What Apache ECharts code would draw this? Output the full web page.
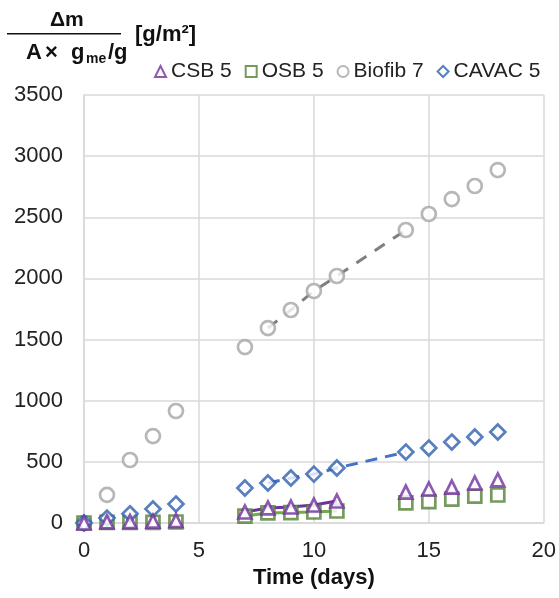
<!DOCTYPE html>
<html>
<head>
<meta charset="utf-8">
<script src="https://cdn.jsdelivr.net/npm/echarts@6/dist/echarts.min.js"></script>
<style>html,body{margin:0;padding:0;background:#fff}#c{width:559px;height:598px}</style>
</head>
<body>
<div id="c"></div>
<script>
var days = [0, 1, 2, 3, 4, 7, 8, 9, 10, 11, 14, 15, 16, 17, 18];
var csb5 = [0, 10, 12, 15, 20, 90, 123, 131, 147, 180, 253, 278, 294, 327, 352];
var osb5 = [0, 5, 5, 5, 8, 57, 82, 85, 90, 98, 164, 175, 196, 220, 229];
var biofib7 = [0, 230, 515, 711, 916, 1439, 1594, 1742, 1897, 2020, 2396, 2527, 2649, 2756, 2886];
var cavac5 = [0, 40, 75, 115, 155, 286, 327, 368, 400, 450, 580, 613, 662, 703, 744];
var seriesNames = ['CSB 5', 'OSB 5', 'Biofib 7', 'CAVAC 5'];
var xTicks = [0, 5, 10, 15, 20];
var yTicks = [0, 500, 1000, 1500, 2000, 2500, 3000, 3500];

function pairs(vals, from, to) {
  var out = [];
  for (var i = 0; i < days.length; i++) {
    if (days[i] >= from && days[i] <= to) out.push([days[i], vals[i]]);
  }
  return out;
}

var font = 'Liberation Sans, Arial, sans-serif';
var chart = echarts.init(document.getElementById('c'), null, {renderer: 'canvas'});
var colors = {csb: '#7030A0', osb: '#538135', bio: '#A5A5A5', cav: '#2F5FAF'};

function scatter(name, vals, sym, size, col) {
  return {
    name: name, type: 'scatter', symbol: sym, symbolSize: size,
    data: pairs(vals, 0, 100), z: 3,
    itemStyle: {color: '#fff', borderColor: col, borderWidth: 2.7}
  };
}
function trend(vals, from, to, col, type) {
  return {
    type: 'line', data: pairs(vals, from, to), showSymbol: false, silent: true, z: 2,
    lineStyle: {color: col, width: 3, type: type}
  };
}
var tf = function (s) { return 'bold ' + s + 'px ' + font; };

chart.setOption({
  animation: false,
  grid: {left: 84, right: 14, top: 95, bottom: 75},
  legend: {
    data: seriesNames, top: 61, left: 154, itemGap: 13, itemWidth: 11, itemHeight: 11,
    textStyle: {fontFamily: font, fontSize: 21, color: '#222'}, padding: 0
  },
  xAxis: {
    type: 'value', min: 0, max: 20, interval: 5,
    name: 'Time (days)', nameLocation: 'middle', nameGap: 44,
    nameTextStyle: {fontFamily: font, fontSize: 22, fontWeight: 'bold', color: '#111'},
    axisLine: {show: true, lineStyle: {color: '#D9D9D9', width: 1.5}},
    axisTick: {show: false},
    axisLabel: {fontFamily: font, fontSize: 22, color: '#222', margin: 17,
      formatter: function (v) { return xTicks.indexOf(v) >= 0 ? String(v) : ''; }},
    splitLine: {show: true, lineStyle: {color: '#D9D9D9', width: 1.5}}
  },
  yAxis: {
    type: 'value', min: 0, max: 3500, interval: 500,
    axisLine: {show: true, lineStyle: {color: '#D9D9D9', width: 1.5}},
    axisTick: {show: false},
    axisLabel: {fontFamily: font, fontSize: 22, color: '#222', margin: 21,
      formatter: function (v) { return yTicks.indexOf(v) >= 0 ? String(v) : ''; }},
    splitLine: {show: true, lineStyle: {color: '#D9D9D9', width: 1.5}}
  },
  graphic: [
    {type: 'text', left: 50, top: 10, style: {text: 'Δm', font: tf(21), fill: '#111'}},
    {type: 'rect', shape: {x: 7, y: 33, width: 114, height: 1.5}, style: {fill: '#111'}},
    {type: 'text', left: 26, top: 42, style: {text: 'A', font: tf(22), fill: '#111'}},
    {type: 'text', left: 45, top: 42, style: {text: '×', font: tf(22), fill: '#111'}},
    {type: 'text', left: 71, top: 42, style: {text: 'g', font: tf(22), fill: '#111'}},
    {type: 'text', left: 86, top: 52, style: {text: 'me', font: tf(14), fill: '#111'}},
    {type: 'text', left: 108, top: 42, style: {text: '/g', font: tf(22), fill: '#111'}},
    {type: 'text', left: 135, top: 24, style: {text: '[g/m²]', font: tf(22), fill: '#111'}}
  ],
  series: [
    trend(biofib7, 8, 14, '#7F7F7F', [12, 10]),
    trend(cavac5, 8, 14, '#4472C4', [12, 8]),
    trend(osb5, 7, 11, '#70AD47', 'solid'),
    trend(csb5, 7, 11, '#7030A0', 'solid'),
    scatter('Biofib 7', biofib7, 'circle', 14, colors.bio),
    scatter('OSB 5', osb5, 'rect', 13, colors.osb),
    scatter('CAVAC 5', cavac5, 'diamond', 15, colors.cav),
    scatter('CSB 5', csb5, 'triangle', 13, colors.csb)
  ]
});
</script>
</body>
</html>
